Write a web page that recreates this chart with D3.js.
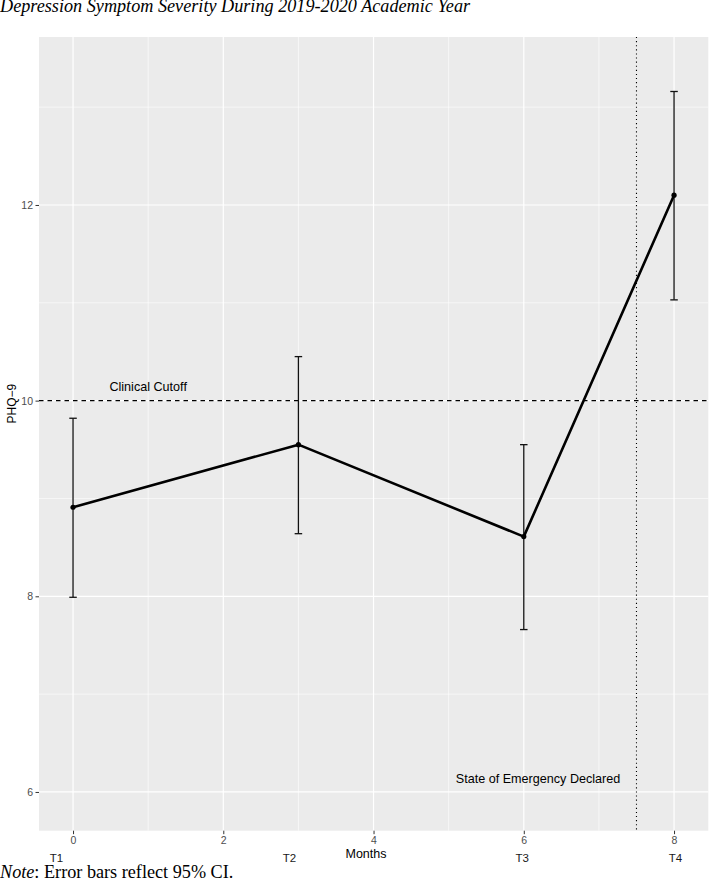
<!DOCTYPE html>
<html>
<head>
<meta charset="utf-8">
<script src="https://cdn.jsdelivr.net/npm/d3@7"></script>
<style>
  html, body { margin: 0; padding: 0; background: #fff; }
  text { font-family: "Liberation Sans", Arial, sans-serif; }
  .serif { font-family: "Liberation Serif", "Times New Roman", serif; }
</style>
</head>
<body>
<div id="chart"></div>
<script>
// PHQ-9 means over the 2019-2020 academic year, with 95% CI

const months = [0, 3, 6, 8];
const waves = ['T1', 'T2', 'T3', 'T4'];
const waveLabelMonths = [-0.22, 2.88, 5.98, 8.02];
const phqMean = [8.91, 9.55, 8.61, 12.10];
const ciLower = [7.99, 8.64, 7.66, 11.03];
const ciUpper = [9.82, 10.45, 9.55, 13.16];

const xTicks = [0, 2, 4, 6, 8];
const xMinor = [1, 3, 5, 7];
const yTicks = [6, 8, 10, 12];
const yMinor = [7, 9, 11, 13];

const cutoff = 10;
const emergencyMonth = 7.5;
const notes = [
  { label: 'Clinical Cutoff', month: 1, phq: 10.14 },
  { label: 'State of Emergency Declared', month: 6.19, phq: 6.14 }
];

const width = 714, height = 885;
const panel = { left: 39, top: 37, right: 708.3, bottom: 830.7 };

const svg = d3.select('#chart')
  .append('svg')
  .attr('width', width)
  .attr('height', height);

const x = d3.scaleLinear().domain([-0.453, 8.456]).range([panel.left, panel.right]);
const y = d3.scaleLinear().domain([5.604, 13.717]).range([panel.bottom, panel.top]);

const points = months.map((m, i) => ({ m, mean: phqMean[i], lo: ciLower[i], hi: ciUpper[i] }));

// panel background + grid
svg.append('rect')
  .attr('x', panel.left).attr('y', panel.top)
  .attr('width', panel.right - panel.left)
  .attr('height', panel.bottom - panel.top)
  .attr('fill', '#ebebeb');

svg.selectAll('line.xminor').data(xMinor).enter().append('line')
  .attr('x1', d => x(d)).attr('x2', d => x(d))
  .attr('y1', panel.top).attr('y2', panel.bottom)
  .attr('stroke', '#fff').attr('stroke-width', 0.6);
svg.selectAll('line.yminor').data(yMinor).enter().append('line')
  .attr('x1', panel.left).attr('x2', panel.right)
  .attr('y1', d => y(d)).attr('y2', d => y(d))
  .attr('stroke', '#fff').attr('stroke-width', 0.6);
svg.selectAll('line.xmajor').data(xTicks).enter().append('line')
  .attr('x1', d => x(d)).attr('x2', d => x(d))
  .attr('y1', panel.top).attr('y2', panel.bottom)
  .attr('stroke', '#fff').attr('stroke-width', 1.2);
svg.selectAll('line.ymajor').data(yTicks).enter().append('line')
  .attr('x1', panel.left).attr('x2', panel.right)
  .attr('y1', d => y(d)).attr('y2', d => y(d))
  .attr('stroke', '#fff').attr('stroke-width', 1.2);

// axes
const xAxis = svg.append('g')
  .attr('transform', `translate(0,${panel.bottom})`)
  .call(d3.axisBottom(x).tickValues(xTicks).tickSize(3.5).tickPadding(2.5));
const yAxis = svg.append('g')
  .attr('transform', `translate(${panel.left},0)`)
  .call(d3.axisLeft(y).tickValues(yTicks).tickSize(3.5).tickPadding(2.5));
[xAxis, yAxis].forEach(g => {
  g.select('.domain').remove();
  g.selectAll('.tick line').attr('stroke', '#333').attr('stroke-width', 1);
  g.selectAll('.tick text').attr('fill', '#4d4d4d').style('font-size', '10.5px')
    .style('font-family', '"Liberation Sans", Arial, sans-serif');
});

// reference lines
svg.append('line')
  .attr('x1', panel.left).attr('x2', panel.right)
  .attr('y1', y(cutoff)).attr('y2', y(cutoff))
  .attr('stroke', '#000').attr('stroke-width', 1.1)
  .attr('stroke-dasharray', '4.5,4');
svg.append('line')
  .attr('x1', x(emergencyMonth)).attr('x2', x(emergencyMonth))
  .attr('y1', panel.top).attr('y2', panel.bottom)
  .attr('stroke', '#000').attr('stroke-width', 1.1)
  .attr('stroke-dasharray', '1.1,3');

// error bars
const capHalf = 0.05;
const bars = svg.selectAll('g.ci').data(points).enter().append('g')
  .attr('stroke', '#111').attr('stroke-width', 1.3);
bars.append('line')
  .attr('x1', d => x(d.m)).attr('x2', d => x(d.m))
  .attr('y1', d => y(d.lo)).attr('y2', d => y(d.hi));
bars.append('line')
  .attr('x1', d => x(d.m - capHalf)).attr('x2', d => x(d.m + capHalf))
  .attr('y1', d => y(d.lo)).attr('y2', d => y(d.lo));
bars.append('line')
  .attr('x1', d => x(d.m - capHalf)).attr('x2', d => x(d.m + capHalf))
  .attr('y1', d => y(d.hi)).attr('y2', d => y(d.hi));

// mean line + points
svg.append('path')
  .datum(points)
  .attr('fill', 'none')
  .attr('stroke', '#000')
  .attr('stroke-width', 2.6)
  .attr('stroke-linejoin', 'round')
  .attr('d', d3.line().x(d => x(d.m)).y(d => y(d.mean)));
svg.selectAll('circle.pt').data(points).enter().append('circle')
  .attr('cx', d => x(d.m)).attr('cy', d => y(d.mean))
  .attr('r', 2.6).attr('fill', '#000');

// annotations
svg.selectAll('text.note').data(notes).enter().append('text')
  .attr('x', d => x(d.month)).attr('y', d => y(d.phq))
  .attr('dy', '0.35em')
  .attr('text-anchor', 'middle')
  .style('font-size', '12.6px')
  .attr('fill', '#000')
  .text(d => d.label);

// wave labels under the axis
svg.selectAll('text.wave').data(waves).enter().append('text')
  .attr('x', (d, i) => x(waveLabelMonths[i]))
  .attr('y', 862)
  .attr('text-anchor', 'middle')
  .style('font-size', '11.5px')
  .attr('fill', '#1a1a1a')
  .text(d => d);

// axis titles
svg.append('text')
  .attr('x', 366).attr('y', 858)
  .attr('text-anchor', 'middle')
  .style('font-size', '12.5px')
  .text('Months');
svg.append('text')
  .attr('transform', `translate(16,${y(9.97)}) rotate(-90)`)
  .attr('text-anchor', 'middle')
  .style('font-size', '12px')
  .text('PHQ\u22129');

// title + note
svg.append('text')
  .attr('class', 'serif')
  .attr('x', 0).attr('y', 12)
  .style('font-size', '18.2px')
  .style('font-style', 'italic')
  .text('Depression Symptom Severity During 2019-2020 Academic Year');

const note = svg.append('text')
  .attr('class', 'serif')
  .attr('x', 0).attr('y', 878)
  .style('font-size', '18.2px');
note.append('tspan').style('font-style', 'italic').text('Note');
note.append('tspan').text(': Error bars reflect 95% CI.');
</script>
</body>
</html>
